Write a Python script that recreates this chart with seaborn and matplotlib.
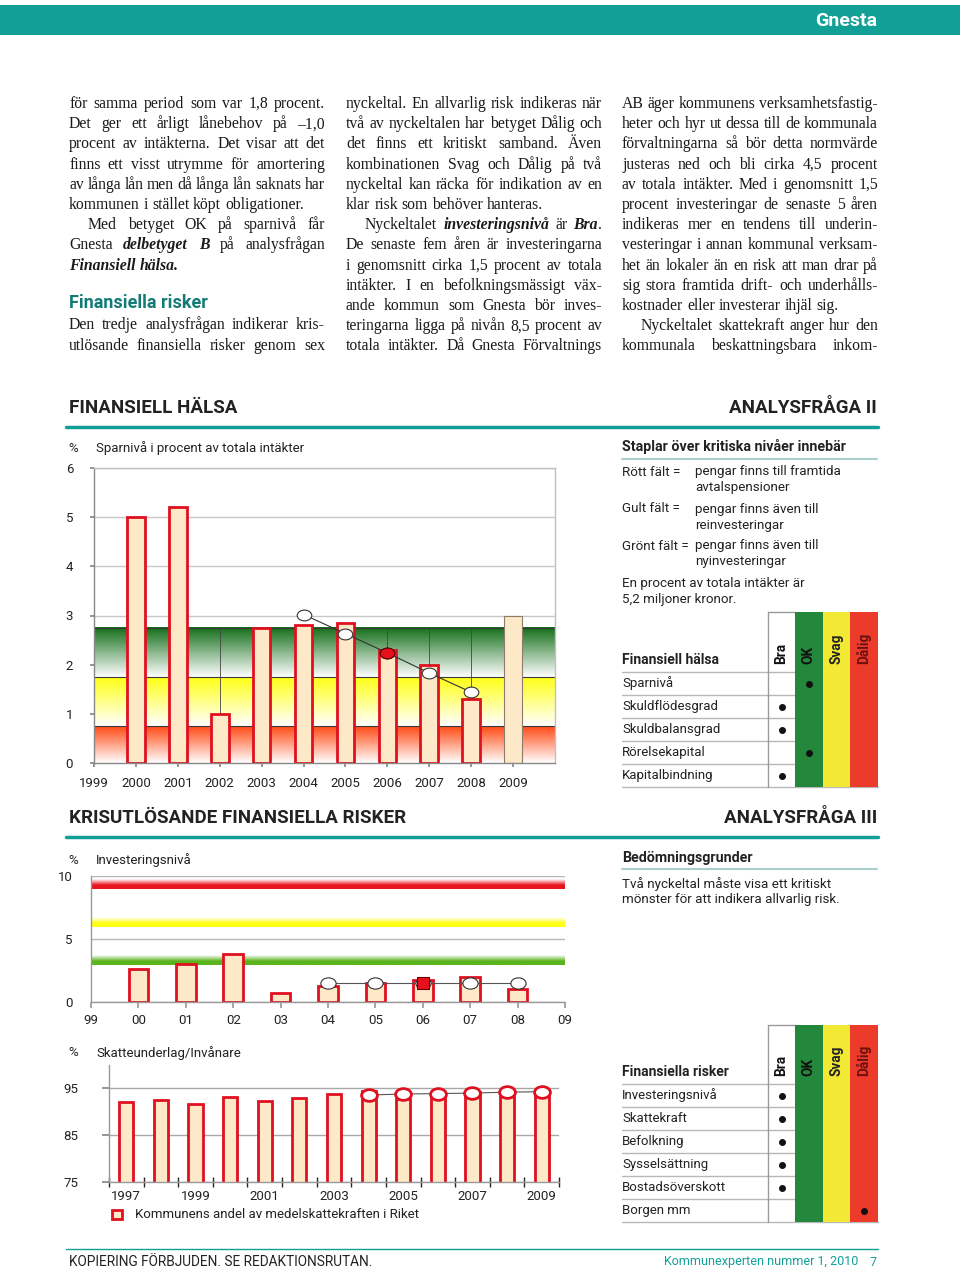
import numpy as np
import matplotlib
matplotlib.use("Agg")
import matplotlib.pyplot as plt
import seaborn as sns
from matplotlib.colors import LinearSegmentedColormap
from matplotlib.patches import Rectangle
from matplotlib.path import Path

# ---- data ----
spar_years = [2000, 2001, 2002, 2003, 2004, 2005, 2006, 2007, 2008, 2009]
spar_values = [5.0, 5.2, 1.0, 2.75, 2.8, 2.85, 2.3, 2.0, 1.3, 3.0]
spar_trend_years = [2004, 2005, 2006, 2007, 2008]
spar_trend = [3.02, 2.63, 2.24, 1.83, 1.44]
spar_marked_year = 2006
spar_levels = [0.75, 1.75, 2.75]          # tops of red / yellow / green fields

inv_years = [2000, 2001, 2002, 2003, 2004, 2005, 2006, 2007, 2008]
inv_values = [2.6, 3.0, 3.8, 0.75, 1.3, 1.5, 1.75, 2.0, 1.0]
inv_trend_years = [2004, 2005, 2006, 2007, 2008]
inv_trend = [1.5, 1.5, 1.5, 1.5, 1.5]
inv_marked_year = 2006
inv_levels = [3.0, 6.0, 9.0]              # green / yellow / red limits
inv_tick_labels = ["99", "00", "01", "02", "03", "04", "05", "06", "07", "08", "09"]

skatt_years = [1997, 1998, 1999, 2000, 2001, 2002, 2003, 2004, 2005, 2006, 2007, 2008, 2009]
skatt_values = [91.9, 92.4, 91.6, 93.1, 92.2, 92.8, 93.8, 94.3, 92.6, 93.9, 94.1, 94.4, 94.5]
skatt_trend_years = [2004, 2005, 2006, 2007, 2008, 2009]
skatt_trend = [93.5, 93.7, 93.8, 93.9, 94.1, 94.2]

grades = ["Bra", "OK", "Svag", "Dålig"]
halsa_rows = ["Sparnivå", "Skuldflödesgrad", "Skuldbalansgrad", "Rörelsekapital", "Kapitalbindning"]
halsa_rating = ["OK", "Bra", "Bra", "OK", "Bra"]
risk_rows = ["Investeringsnivå", "Skattekraft", "Befolkning", "Sysselsättning",
             "Bostadsöverskott", "Borgen mm"]
risk_rating = ["Bra", "Bra", "Bra", "Bra", "Bra", "Dålig"]

col1_text = [
    "för samma period som var 1,8 procent.",
    "Det ger ett årligt lånebehov på –1,0",
    "procent av intäkterna. Det visar att det",
    "finns ett visst utrymme för amortering",
    "av långa lån men då långa lån saknats har",
    "kommunen i stället köpt obligationer.|",
    ">Med betyget OK på sparnivå får",
    "Gnesta *delbetyget B* på analysfrågan",
    "*Finansiell hälsa.*|",
]
col1_tail = [
    "Den tredje analysfrågan indikerar kris-",
    "utlösande finansiella risker genom sex",
]
col2_text = [
    "nyckeltal. En allvarlig risk indikeras när",
    "två av nyckeltalen har betyget Dålig och",
    "det finns ett kritiskt samband. Även",
    "kombinationen Svag och Dålig på två",
    "nyckeltal kan räcka för indikation av en",
    "klar risk som behöver hanteras.|",
    ">Nyckeltalet *investeringsnivå* är *Bra*.",
    "De senaste fem åren är investeringarna",
    "i genomsnitt cirka 1,5 procent av totala",
    "intäkter. I en befolkningsmässigt väx-",
    "ande kommun som Gnesta bör inves-",
    "teringarna ligga på nivån 8,5 procent av",
    "totala intäkter. Då Gnesta Förvaltnings",
]
col3_text = [
    "AB äger kommunens verksamhetsfastig-",
    "heter och hyr ut dessa till de kommunala",
    "förvaltningarna så bör detta normvärde",
    "justeras ned och bli cirka 4,5 procent",
    "av totala intäkter. Med i genomsnitt 1,5",
    "procent investeringar de senaste 5 åren",
    "indikeras mer en tendens till underin-",
    "vesteringar i annan kommunal verksam-",
    "het än lokaler än en risk att man drar på",
    "sig stora framtida drift- och underhålls-",
    "kostnader eller investerar ihjäl sig.|",
    ">Nyckeltalet skattekraft anger hur den",
    "kommunala beskattningsbara inkom-",
]

# ---- style ----
TEAL = "#12a096"
TEAL_DARK = "#137a76"
BAR_FILL = "#fde8c8"
BAR_RED = "#e01020"
GRADE_COLORS = ["white", "#23873c", "#f2e935", "#ec3b2b"]
GRADE_TEXT = ["#111111", "#111111", "#222222", "#6a1010"]
SERIF = "Liberation Serif"
BODY_SIZE = 11.3

sns.set_theme(style="white")
plt.rcParams["font.family"] = ["Roboto", "DejaVu Sans"]
plt.rcParams["text.color"] = "#222222"

W, H = 960, 1270
fig = plt.figure(figsize=(9.6, 12.7), dpi=100)
bg = fig.add_axes([0, 0, 1, 1])
bg.set_xlim(0, W)
bg.set_ylim(H, 0)
bg.axis("off")
renderer = fig.canvas.get_renderer()


def px_axes(x0, y0, x1, y1):
    return fig.add_axes([x0 / W, 1 - y1 / H, (x1 - x0) / W, (y1 - y0) / H])


def body_line(x, y, line, width, size=BODY_SIZE):
    justify = not line.endswith("|")
    line = line.rstrip("|")
    indent = 0
    if line.startswith(">"):
        indent = 19
        line = line[1:]
    words, bold = [], False
    for w in line.split():
        frags = []
        for i, p in enumerate(w.split("*")):
            if i:
                bold = not bold
            if p:
                frags.append((p, bold))
        words.append(frags)
    placed, widths = [], []
    for frags in words:
        off, items = 0, []
        for p, b in frags:
            t = bg.text(0, y + 5, p, family=SERIF, size=size, va="baseline",
                        weight="bold" if b else "normal",
                        style="italic" if b else "normal", color="#1a1a1a")
            items.append((t, off))
            off += t.get_window_extent(renderer).width
        placed.append(items)
        widths.append(off)
    if justify and len(words) > 1:
        gap = (width - indent - sum(widths)) / (len(words) - 1)
    else:
        gap = size * 100 / 72 * 0.25
    cur = x + indent
    for items, wd in zip(placed, widths):
        for t, off in items:
            t.set_x(cur + off)
        cur += wd + gap


# ---- header / footer ----
bg.add_patch(Rectangle((0, 5), W, 30, color=TEAL, lw=0))
bg.text(877, 21, "Gnesta", ha="right", va="center", color="white",
        weight="bold", size=14)
bg.plot([66, 878], [1249, 1249], color=TEAL, lw=1)
bg.text(69, 1262, "KOPIERING FÖRBJUDEN. SE REDAKTIONSRUTAN.", va="center", size=9.8)
bg.text(858, 1262, "Kommunexperten nummer 1, 2010", ha="right", va="center",
        size=9, color=TEAL)
bg.text(877, 1262, "7", ha="right", va="center", size=9, color=TEAL)

# ---- body text ----
line_y = [103 + 20.2 * i for i in range(13)]
for i, ln in enumerate(col1_text):
    body_line(69, line_y[i], ln, 256)
bg.text(69, 303, "Finansiella risker", va="center", weight="bold", size=13,
        color=TEAL_DARK)
for i, ln in enumerate(col1_tail):
    body_line(69, 324 + 20.5 * i, ln, 256)
for i, ln in enumerate(col2_text):
    body_line(346, line_y[i], ln, 256)
for i, ln in enumerate(col3_text):
    body_line(622, line_y[i], ln, 256)

# ---- section headings ----
for y, left, right in [(408, "FINANSIELL HÄLSA", "ANALYSFRÅGA II"),
                       (818, "KRISUTLÖSANDE FINANSIELLA RISKER", "ANALYSFRÅGA III")]:
    bg.text(69, y, left, va="center", weight="bold", size=13.5)
    bg.text(877, y, right, ha="right", va="center", weight="bold", size=13.5)
    bg.plot([66, 878], [y + 19, y + 19], color=TEAL, lw=2.5)

# ---- right side notes ----
bg.text(622, 447, "Staplar över kritiska nivåer innebär", va="center",
        weight="bold", size=10.3)
bg.plot([622, 877], [459, 459], color="#a9cfcc", lw=1.5)
notes = [(472, "Rött fält =", "pengar finns till framtida"), (488, "", "avtalspensioner"),
         (509, "Gult fält =", "pengar finns även till"), (525, "", "reinvesteringar"),
         (546, "Grönt fält =", "pengar finns även till"), (562, "", "nyinvesteringar")]
for y, lab, txt in notes:
    bg.text(622, y, lab, va="center", size=9.6)
    bg.text(695, y, txt, va="center", size=9.6)
bg.text(622, 583, "En procent av totala intäkter är", va="center", size=9.6)
bg.text(622, 599, "5,2 miljoner kronor.", va="center", size=9.6)

bg.text(622, 858, "Bedömningsgrunder", va="center", weight="bold", size=10.3)
bg.plot([622, 877], [869, 869], color="#a9cfcc", lw=1.5)
bg.text(622, 884, "Två nyckeltal måste visa ett kritiskt", va="center", size=9.6)
bg.text(622, 900, "mönster för att indikera allvarlig risk.", va="center", size=9.6)

# ---- grade tables ----
COL_X = [768, 795, 822.5, 850, 877.5]


def grade_table(top, head_bottom, title, rows, ratings, row_h=23):
    bottom = head_bottom + row_h * len(rows)
    for i in range(len(rows) + 1):
        yy = head_bottom + i * row_h
        bg.plot([622, COL_X[-1] if i == len(rows) else COL_X[1]], [yy, yy],
                color="#b8b8b8", lw=1, zorder=1)
    bg.plot([COL_X[0], COL_X[0]], [top, bottom], color="#9a9a9a", lw=1)
    bg.plot([COL_X[0], COL_X[1]], [top, top], color="#9a9a9a", lw=1)
    for g in range(1, 4):
        bg.add_patch(Rectangle((COL_X[g], top), COL_X[g + 1] - COL_X[g], bottom - top,
                               color=GRADE_COLORS[g], lw=0, zorder=2))
    for g, name in enumerate(grades):
        bg.text((COL_X[g] + COL_X[g + 1]) / 2, head_bottom - 8, name, rotation=90,
                ha="center", va="bottom", weight="bold", size=9.8,
                color=GRADE_TEXT[g], zorder=3)
    bg.text(622, head_bottom - 12, title, va="center", weight="bold", size=10)
    for i, (r, rating) in enumerate(zip(rows, ratings)):
        yc = head_bottom + (i + 0.5) * row_h
        bg.text(622, yc, r, va="center", size=9.5)
        g = grades.index(rating)
        bg.plot((COL_X[g] + COL_X[g + 1]) / 2, yc, "o", color="#111111", ms=4, zorder=4)


grade_table(612, 672, "Finansiell hälsa", halsa_rows, halsa_rating)
grade_table(1025, 1084, "Finansiella risker", risk_rows, risk_rating)

circ = Path.unit_circle()
ELLIPSE = Path(circ.vertices * [1.35, 1.0], circ.codes)


def fade(col, solid=0.0):
    stops = [(0.0, "white"), (1.0, col)] if solid == 0 else \
        [(0.0, col), (solid, col), (1.0, "white")]
    return LinearSegmentedColormap.from_list("f", stops)


grad = np.linspace(0, 1, 128).reshape(-1, 1)

# ---- chart 1: Sparnivå ----
ax1 = px_axes(94, 468, 555, 763)
bands = [(0, spar_levels[0], "#ff4a14"), (spar_levels[0], spar_levels[1], "#ffff10"),
         (spar_levels[1], spar_levels[2], "#136e19")]
for lo, hi, col in bands:
    ax1.imshow(grad, extent=[1999, 2010, lo, hi], origin="lower", aspect="auto",
               cmap=fade(col), zorder=0.8, interpolation="bilinear")
ax1.hlines(spar_levels, 1999, 2010, color="#3a3a3a", lw=0.8, zorder=1)
ax1.vlines(spar_years, 0, spar_levels[-1], color="#444444", lw=0.6, zorder=1)
sns.barplot(x=spar_years, y=spar_values, native_scale=True, width=0.42,
            color=BAR_FILL, saturation=1, edgecolor=BAR_RED, linewidth=2,
            errorbar=None, ax=ax1, zorder=2)
last = ax1.containers[0][-1]
last.set_edgecolor("#8c7c6c")
last.set_linewidth(0.8)
sns.lineplot(x=spar_trend_years, y=spar_trend, color="#333333", lw=0.8, ax=ax1, zorder=3)
sns.scatterplot(x=spar_trend_years, y=spar_trend, marker=ELLIPSE, s=110, color="white",
                edgecolor="#333333", linewidth=0.8, ax=ax1, zorder=4)
mi = spar_trend_years.index(spar_marked_year)
sns.scatterplot(x=[spar_marked_year], y=[spar_trend[mi]], marker=ELLIPSE, s=110,
                color="#e8101c", edgecolor="#600000", linewidth=0.8, ax=ax1, zorder=5)
ax1.set_xlim(1999, 2010)
ax1.set_ylim(0, 6)
ax1.set_xticks(range(1999, 2010))
ax1.set_xticklabels([str(y) for y in range(1999, 2010)])
ax1.set_yticks(range(0, 7))
ax1.grid(axis="y", color="#c8c8c8", lw=1)
ax1.set_axisbelow(True)
ax1.set_xlabel("")
ax1.set_ylabel("")
for side, c in [("left", "#888888"), ("bottom", "#888888"), ("top", "#c0c0c0"), ("right", "#c0c0c0")]:
    ax1.spines[side].set_color(c)
    ax1.spines[side].set_linewidth(1)
ax1.tick_params(axis="both", labelsize=9.5, length=3, color="#888888", labelcolor="#222222",
                left=True, bottom=True)
ax1.tick_params(axis="y", pad=12)
ax1.tick_params(axis="x", pad=7)
bg.text(68, 448, "%", va="center", size=9.5)
bg.text(96, 448, "Sparnivå i procent av totala intäkter", va="center", size=9.5)

# ---- chart 2: Investeringsnivå ----
ax2 = px_axes(91, 876, 565, 1002)
for lvl, col in zip(inv_levels, ["#5ab41e", "#ffff14", "#e8141e"]):
    ax2.imshow(grad, extent=[1999, 2009, lvl - 0.05, lvl + 0.7], origin="lower",
               aspect="auto", cmap=fade(col, 0.4), zorder=0.8, interpolation="bilinear")
sns.barplot(x=inv_years, y=inv_values, native_scale=True, width=0.41,
            color=BAR_FILL, saturation=1, edgecolor=BAR_RED, linewidth=2,
            errorbar=None, ax=ax2, zorder=2)
sns.lineplot(x=inv_trend_years, y=inv_trend, color="#555555", lw=0.8, ax=ax2, zorder=3)
sns.scatterplot(x=inv_trend_years, y=inv_trend, marker=ELLIPSE, s=120, color="white",
                edgecolor="#333333", linewidth=0.8, ax=ax2, zorder=4)
mi = inv_trend_years.index(inv_marked_year)
sns.scatterplot(x=[inv_marked_year], y=[inv_trend[mi]], marker="s", s=75,
                color="#e8101c", edgecolor="#700000", linewidth=0.8, ax=ax2, zorder=5)
ax2.set_xlim(1999, 2009)
ax2.set_ylim(0, 10)
ax2.set_xticks(range(1999, 2010))
ax2.set_xticklabels(inv_tick_labels)
ax2.set_yticks([0, 5, 10])
ax2.grid(axis="y", color="#b8b8b8", lw=1)
ax2.set_axisbelow(True)
ax2.set_xlabel("")
ax2.set_ylabel("")
sns.despine(ax=ax2)
for side in ["left", "bottom"]:
    ax2.spines[side].set_color("#999999")
    ax2.spines[side].set_linewidth(1)
ax2.tick_params(axis="both", labelsize=9.5, color="#999999", labelcolor="#222222")
ax2.tick_params(axis="x", bottom=True, length=4, pad=5)
ax2.tick_params(axis="y", left=False, pad=7)
bg.text(68, 860, "%", va="center", size=9.5)
bg.text(96, 860, "Investeringsnivå", va="center", size=9.5)

# ---- chart 3: Skatteunderlag ----
ax3 = px_axes(109, 1064.5, 559, 1181.7)
sns.barplot(x=skatt_years, y=skatt_values, native_scale=True, width=0.41,
            color=BAR_FILL, saturation=1, edgecolor=BAR_RED, linewidth=2,
            errorbar=None, ax=ax3, zorder=2)
sns.lineplot(x=skatt_trend_years, y=skatt_trend, color="#555555", lw=0.8, ax=ax3, zorder=3)
sns.scatterplot(x=skatt_trend_years, y=skatt_trend, marker=ELLIPSE, s=130, color="white",
                edgecolor=BAR_RED, linewidth=2, ax=ax3, zorder=4)
ax3.set_xlim(1996.5, 2009.5)
ax3.set_ylim(75, 100)
ax3.set_xticks(skatt_years[::2])
ax3.set_xticklabels([str(y) for y in skatt_years[::2]])
ax3.set_xticks(np.arange(1996.5, 2010, 1.0), minor=True)
ax3.set_yticks([75, 85, 95])
ax3.grid(axis="y", color="#a8a8a8", lw=1)
ax3.set_axisbelow(True)
ax3.set_xlabel("")
ax3.set_ylabel("")
sns.despine(ax=ax3)
for side in ["left", "bottom"]:
    ax3.spines[side].set_color("#999999")
    ax3.spines[side].set_linewidth(1)
ax3.tick_params(axis="both", labelsize=9.5, color="#888888", labelcolor="#222222")
ax3.tick_params(axis="x", which="major", bottom=True, length=0, pad=6)
ax3.tick_params(axis="x", which="minor", bottom=True, length=7, direction="inout", width=1)
ax3.tick_params(axis="y", left=True, length=5, pad=17)
bg.text(68, 1053, "%", va="center", size=9.5)
bg.text(96, 1053, "Skatteunderlag/Invånare", va="center", size=9.5)
bg.add_patch(Rectangle((112, 1210), 10, 9, facecolor=BAR_FILL, edgecolor=BAR_RED, lw=2))
bg.text(135, 1215, "Kommunens andel av medelskattekraften i Riket", va="center", size=9.5)

fig.savefig("out.png", dpi=100, facecolor="white")
